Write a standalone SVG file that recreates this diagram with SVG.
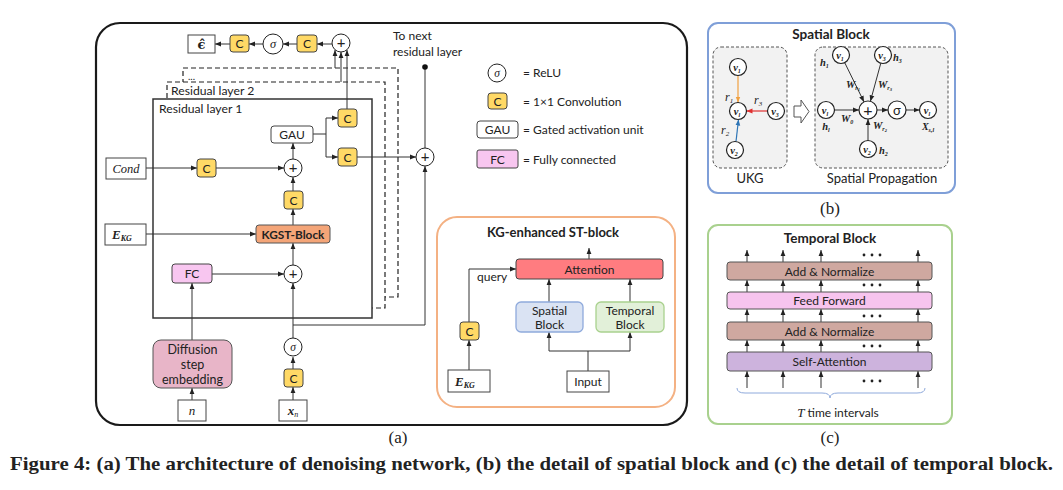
<svg xmlns="http://www.w3.org/2000/svg" width="1063" height="490" viewBox="0 0 1063 490">
<defs>
<marker id="ah" viewBox="0 0 10 10" refX="10" refY="5" markerWidth="6" markerHeight="6" orient="auto" markerUnits="userSpaceOnUse"><path d="M0,1 L10,5 L0,9 z" fill="#222"/></marker>
<marker id="aho" viewBox="0 0 10 10" refX="10" refY="5" markerWidth="6" markerHeight="6" orient="auto" markerUnits="userSpaceOnUse"><path d="M0,1 L10,5 L0,9 z" fill="#F0A040"/></marker>
<marker id="ahr" viewBox="0 0 10 10" refX="10" refY="5" markerWidth="6" markerHeight="6" orient="auto" markerUnits="userSpaceOnUse"><path d="M0,1 L10,5 L0,9 z" fill="#E03030"/></marker>
<marker id="ahb" viewBox="0 0 10 10" refX="10" refY="5" markerWidth="6" markerHeight="6" orient="auto" markerUnits="userSpaceOnUse"><path d="M0,1 L10,5 L0,9 z" fill="#2E75B6"/></marker>
<style>
svg{font-family:Lato,"Liberation Sans",sans-serif;font-size:12px}
text{fill:#222}
.c{text-anchor:middle}
.b{font-weight:bold}
.m{font-family:"Liberation Serif","DejaVu Serif",serif;font-style:italic}
.mb{font-family:"Liberation Serif","DejaVu Serif",serif;font-style:italic;font-weight:bold}
.conv{fill:#FFD966;stroke:#444;stroke-width:1}
.box{fill:#fff;stroke:#444;stroke-width:1}
.fc{fill:#F8C6F0;stroke:#444;stroke-width:1}
.op{fill:#fff;stroke:#222;stroke-width:1}
.ln{fill:none;stroke:#333;stroke-width:1}
.ar{fill:none;stroke:#333;stroke-width:1;marker-end:url(#ah)}
.dash{fill:#fff;stroke:#222;stroke-width:1.2;stroke-dasharray:5,3}
.node{fill:#fff;stroke:#222;stroke-width:1.2}
.an{fill:#CFA8A0;stroke:#555;stroke-width:1}
.cap{font-family:"Liberation Serif","DejaVu Serif",serif}
</style>
</defs>

<!-- backgrounds / frames -->
<g id="frames">
<rect x="96" y="23" width="591" height="402" rx="24" fill="#fff" stroke="#1a1a1a" stroke-width="2.2"/>
<rect class="dash" x="183" y="68" width="215" height="229"/>
<rect class="dash" x="167" y="82" width="218" height="226"/>
<rect x="153" y="99" width="219" height="219" fill="#fff" stroke="#333" stroke-width="1.5"/>
<text x="188" y="80" font-size="10">...</text>
<text x="171" y="95" font-size="12.2">Residual layer 2</text>
<text x="159" y="113" font-size="12.2">Residual layer 1</text>
<rect x="437" y="217" width="238" height="190" rx="20" fill="#fff" stroke="#F4B183" stroke-width="2"/>
<text class="c b" x="553" y="237" font-size="13">KG-enhanced ST-block</text>
<text x="477" y="281">query</text>
<rect x="708" y="23" width="247" height="170" rx="10" fill="#fff" stroke="#7F9FD8" stroke-width="2"/>
<text class="c b" x="831" y="39" font-size="13.5">Spatial Block</text>
<rect x="713" y="47" width="74" height="121" rx="8" fill="#F2F2F2" stroke="#555" stroke-width="1" stroke-dasharray="3,2"/>
<rect x="815" y="47" width="133" height="121" rx="8" fill="#F2F2F2" stroke="#555" stroke-width="1" stroke-dasharray="3,2"/>
<text class="c" x="750" y="183" font-size="13">UKG</text>
<text class="c" x="882" y="183" font-size="13">Spatial Propagation</text>
<polygon points="794,106 801,106 801,100 809,111.5 801,123 801,117 794,117" fill="#fff" stroke="#555" stroke-width="1"/>
<rect x="708" y="225" width="244" height="199" rx="10" fill="#fff" stroke="#A9D18E" stroke-width="2"/>
<text class="c b" x="830" y="243" font-size="13.5">Temporal Block</text>
</g>

<!-- connectors -->
<g id="connectors">
<line class="ar" x1="332" y1="44" x2="317" y2="44"/>
<line class="ar" x1="297" y1="44" x2="283" y2="44"/>
<line class="ar" x1="263" y1="44" x2="249" y2="44"/>
<line class="ar" x1="230" y1="44" x2="215" y2="44"/>
<line class="ar" x1="335" y1="68" x2="335" y2="50"/>
<line class="ar" x1="341" y1="82" x2="341" y2="52"/>
<line class="ar" x1="347" y1="109" x2="347" y2="50"/>
<path class="ln" d="M313,134 H326 M326,118 V157"/>
<line class="ar" x1="326" y1="118" x2="338" y2="118"/>
<line class="ar" x1="326" y1="157" x2="338" y2="157"/>
<line class="ar" x1="293" y1="159" x2="293" y2="143"/>
<line class="ar" x1="146" y1="168" x2="197" y2="168"/>
<line class="ar" x1="216" y1="168" x2="284" y2="168"/>
<line class="ar" x1="293" y1="191" x2="293" y2="177"/>
<line class="ar" x1="293" y1="225" x2="293" y2="209"/>
<line class="ar" x1="146" y1="234" x2="256" y2="234"/>
<line class="ar" x1="293" y1="265" x2="293" y2="243"/>
<line class="ar" x1="212" y1="274" x2="284" y2="274"/>
<line class="ar" x1="192" y1="340" x2="192" y2="283"/>
<line class="ar" x1="192" y1="400" x2="192" y2="388"/>
<line class="ar" x1="293" y1="400" x2="293" y2="387"/>
<line class="ar" x1="293" y1="369" x2="293" y2="357"/>
<line class="ar" x1="293" y1="338" x2="293" y2="283"/>
<path class="ar" d="M293,325 H425 V166"/>
<line class="ar" x1="357" y1="157" x2="416" y2="157"/>
<line class="ln" x1="425" y1="148" x2="425" y2="67"/>
<circle cx="425" cy="67" r="2.8" fill="#111"/>
<line class="ar" x1="589" y1="259" x2="589" y2="248"/>
<path class="ar" d="M469,322 V269 H516"/>
<line class="ar" x1="469" y1="370" x2="469" y2="340"/>
<line class="ar" x1="549" y1="302" x2="549" y2="279"/>
<line class="ar" x1="630" y1="302" x2="630" y2="279"/>
<path class="ln" d="M588,371 V351 M549,351 H630"/>
<line class="ar" x1="549" y1="351" x2="549" y2="332"/>
<line class="ar" x1="630" y1="351" x2="630" y2="332"/>
<line x1="738" y1="75.5" x2="738" y2="102.5" stroke="#F0A040" stroke-width="1.2" marker-end="url(#aho)"/>
<line x1="767.5" y1="111" x2="746.5" y2="111" stroke="#E03030" stroke-width="1.2" marker-end="url(#ahr)"/>
<line x1="736" y1="141.5" x2="738.5" y2="119.5" stroke="#2E75B6" stroke-width="1.2" marker-end="url(#ahb)"/>
<line class="ar" x1="844.7" y1="62.6" x2="864" y2="101.9"/>
<line class="ar" x1="880.8" y1="63.2" x2="870.4" y2="101.3"/>
<line class="ar" x1="834.5" y1="110" x2="859" y2="110"/>
<line class="ar" x1="868" y1="140.5" x2="868" y2="119"/>
<line class="ar" x1="877" y1="110" x2="888" y2="110"/>
<line class="ar" x1="906" y1="110" x2="919.5" y2="110"/>
<g class="ar">
<line x1="747" y1="262" x2="747" y2="250"/><line x1="783" y1="262" x2="783" y2="250"/><line x1="821" y1="262" x2="821" y2="250"/><line x1="918" y1="262" x2="918" y2="250"/>
<line x1="747" y1="292" x2="747" y2="280"/><line x1="783" y1="292" x2="783" y2="280"/><line x1="821" y1="292" x2="821" y2="280"/><line x1="918" y1="292" x2="918" y2="280"/>
<line x1="747" y1="322" x2="747" y2="309"/><line x1="783" y1="322" x2="783" y2="309"/><line x1="821" y1="322" x2="821" y2="309"/><line x1="918" y1="322" x2="918" y2="309"/>
<line x1="747" y1="352" x2="747" y2="340"/><line x1="783" y1="352" x2="783" y2="340"/><line x1="821" y1="352" x2="821" y2="340"/><line x1="918" y1="352" x2="918" y2="340"/>
<line x1="747" y1="388" x2="747" y2="371"/><line x1="783" y1="388" x2="783" y2="371"/><line x1="821" y1="388" x2="821" y2="371"/><line x1="918" y1="388" x2="918" y2="371"/>
</g>
</g>

<!-- nodes of (a) -->
<g id="eps-hat"><rect class="box" x="188" y="35" width="27" height="18"/><text class="c" x="201.5" y="49" font-size="13" font-family="DejaVu Serif" font-weight="bold">ϵ̂</text></g>
<g id="conv-out2"><rect class="conv" x="230" y="35" width="19" height="17" rx="3"/><text class="c" x="239.5" y="48">C</text></g>
<g id="relu-out"><circle class="op" cx="273" cy="44" r="10"/><text class="c m" x="273" y="48" font-size="12.5">σ</text></g>
<g id="conv-out1"><rect class="conv" x="297" y="35" width="20" height="17" rx="3"/><text class="c" x="307" y="48">C</text></g>
<g id="sum-skip"><circle class="op" cx="341" cy="43" r="9"/><text class="c" x="341" y="48" font-size="15">+</text></g>
<g id="to-next"><text x="393" y="40">To next</text><text x="393" y="56">residual layer</text></g>
<g id="conv-skip"><rect class="conv" x="338" y="109" width="19" height="18" rx="3"/><text class="c" x="347.5" y="122.5">C</text></g>
<g id="gau"><rect class="box" x="271" y="126" width="42" height="17" rx="3"/><text class="c" x="292" y="139">GAU</text></g>
<g id="conv-res"><rect class="conv" x="338" y="148" width="19" height="18" rx="3"/><text class="c" x="347.5" y="161.5">C</text></g>
<g id="sum-res"><circle class="op" cx="425" cy="157" r="9"/><text class="c" x="425" y="162" font-size="15">+</text></g>
<g id="cond"><rect class="box" x="106" y="158" width="40" height="21"/><text class="c m" x="126" y="173" font-size="12.5">Cond</text></g>
<g id="conv-cond"><rect class="conv" x="197" y="159" width="19" height="18" rx="3"/><text class="c" x="206.5" y="172.5">C</text></g>
<g id="sum-cond"><circle class="op" cx="293" cy="168" r="9"/><text class="c" x="293" y="173" font-size="15">+</text></g>
<g id="conv-kgst"><rect class="conv" x="284" y="191" width="19" height="18" rx="3"/><text class="c" x="293.5" y="204.5">C</text></g>
<g id="ekg-a"><rect class="box" x="105" y="224" width="41" height="21"/><text class="mb" x="112" y="239" font-size="13">E<tspan font-size="8" dy="2">KG</tspan></text></g>
<g id="kgst"><rect x="256" y="225" width="74" height="18" rx="3" fill="#F4A578" stroke="#555" stroke-width="1"/><text class="c b" x="293" y="238.5" font-size="11.8">KGST-Block</text></g>
<g id="fc"><rect class="fc" x="172" y="264" width="40" height="19" rx="3"/><text class="c" x="192" y="278">FC</text></g>
<g id="sum-step"><circle class="op" cx="293" cy="274" r="9"/><text class="c" x="293" y="279" font-size="15">+</text></g>
<g id="relu-in"><circle class="op" cx="293" cy="347" r="9"/><text class="c m" x="293" y="351" font-size="11.5">σ</text></g>
<g id="diffusion"><rect x="153" y="340" width="79" height="48" rx="8" fill="#E8B5C8" stroke="#555" stroke-width="1"/><text class="c" x="192.5" y="354" font-size="12.5">Diffusion</text><text class="c" x="192.5" y="369" font-size="12.5">step</text><text class="c" x="192.5" y="384" font-size="12.5">embedding</text></g>
<g id="conv-in"><rect class="conv" x="284" y="369" width="19" height="18" rx="3"/><text class="c" x="293.5" y="382.5">C</text></g>
<g id="n"><rect class="box" x="178" y="400" width="28" height="21"/><text class="c m" x="192" y="415" font-size="13">n</text></g>
<g id="xn"><rect class="box" x="279" y="400" width="28" height="21"/><text class="c mb" x="293" y="415" font-size="13">x<tspan font-size="8" dy="2" font-weight="normal">n</tspan></text></g>

<!-- legend -->
<g id="legend">
<circle class="op" cx="497" cy="73" r="9"/><text class="c m" x="497" y="77" font-size="11.5">σ</text><text x="523" y="77">= ReLU</text>
<rect class="conv" x="488" y="93" width="19" height="16" rx="3"/><text class="c" x="497.5" y="105.5">C</text><text x="523" y="105.5">= 1×1 Convolution</text>
<rect class="box" x="477" y="121" width="41" height="17" rx="3"/><text class="c" x="497.5" y="134">GAU</text><text x="523" y="134">= Gated activation unit</text>
<rect class="fc" x="477" y="150" width="41" height="18" rx="2"/><text class="c" x="497.5" y="163.5">FC</text><text x="523" y="163.5">= Fully connected</text>
</g>

<!-- KG-enhanced ST-block nodes -->
<g id="attention"><rect x="516" y="259" width="147" height="20" rx="3" fill="#FF7C80" stroke="#444" stroke-width="1"/><text class="c" x="589.5" y="273.5">Attention</text></g>
<g id="conv-query"><rect class="conv" x="460" y="322" width="19" height="18" rx="3"/><text class="c" x="469.5" y="335.5">C</text></g>
<g id="ekg-b"><rect class="box" x="448" y="370" width="42" height="22"/><text class="mb" x="455" y="385.5" font-size="13">E<tspan font-size="8" dy="2">KG</tspan></text></g>
<g id="spatial-block"><rect x="516" y="302" width="67" height="30" rx="5" fill="#DAE3F3" stroke="#8FAADC" stroke-width="1.3"/><text class="c" x="549.5" y="314.5">Spatial</text><text class="c" x="549.5" y="329">Block</text></g>
<g id="temporal-block"><rect x="596" y="302" width="68" height="30" rx="5" fill="#E2F0D9" stroke="#A9D18E" stroke-width="1.3"/><text class="c" x="630" y="314.5">Temporal</text><text class="c" x="630" y="329">Block</text></g>
<g id="input"><rect class="box" x="567" y="371" width="42" height="21"/><text class="c" x="588" y="385.5">Input</text></g>

<text class="c cap" x="398" y="443" font-size="17">(a)</text>

<!-- (b) nodes -->
<g id="ukg-labels">
<text class="m" x="725" y="101" font-size="12">r<tspan font-size="7" dy="2">1</tspan></text>
<text class="m" x="754" y="104" font-size="12">r<tspan font-size="7" dy="2">3</tspan></text>
<text class="m" x="721" y="134" font-size="12">r<tspan font-size="7" dy="2">2</tspan></text>
</g>
<g id="ukg-v1"><circle class="node" cx="738" cy="67" r="8.5"/><text class="c mb" x="737" y="70.5" font-size="10.5">v<tspan font-size="6" dy="2">1</tspan></text></g>
<g id="ukg-vl"><circle class="node" cx="738" cy="111" r="8.5"/><text class="c mb" x="737" y="114.5" font-size="10.5">v<tspan font-size="6" dy="2">l</tspan></text></g>
<g id="ukg-v3"><circle class="node" cx="776" cy="111" r="8.5"/><text class="c mb" x="775" y="114.5" font-size="10.5">v<tspan font-size="6" dy="2">3</tspan></text></g>
<g id="ukg-v2"><circle class="node" cx="735" cy="150" r="8.5"/><text class="c mb" x="734" y="153.5" font-size="10.5">v<tspan font-size="6" dy="2">2</tspan></text></g>
<g id="sp-v1"><circle class="node" cx="841" cy="55" r="8.5"/><text class="c mb" x="840" y="58.5" font-size="10.5">v<tspan font-size="6" dy="2">1</tspan></text><text class="mb" x="820" y="66" font-size="10.5">h<tspan font-size="6" dy="2">1</tspan></text></g>
<g id="sp-v3"><circle class="node" cx="883" cy="55" r="8.5"/><text class="c mb" x="882" y="58.5" font-size="10.5">v<tspan font-size="6" dy="2">3</tspan></text><text class="mb" x="893" y="61" font-size="10.5">h<tspan font-size="6" dy="2">3</tspan></text></g>
<g id="sp-vl"><circle class="node" cx="826" cy="110" r="8.5"/><text class="c mb" x="825" y="113.5" font-size="10.5">v<tspan font-size="6" dy="2">l</tspan></text><text class="c mb" x="826" y="130" font-size="10.5">h<tspan font-size="6" dy="2">l</tspan></text></g>
<g id="sp-sum"><circle class="node" cx="868" cy="110" r="9"/><text class="c" x="868" y="115.5" font-size="16">+</text></g>
<g id="sp-sigma"><circle class="node" cx="897" cy="110" r="9"/><text class="c" x="897" y="114.5" font-size="13">σ</text></g>
<g id="sp-out"><circle class="node" cx="928" cy="110" r="8.5"/><text class="c mb" x="927" y="113.5" font-size="10.5">v<tspan font-size="6" dy="2">l</tspan></text><text class="c mb" x="928" y="130" font-size="10">X<tspan font-size="6" dy="2">s,l</tspan></text></g>
<g id="sp-v2"><circle class="node" cx="868" cy="149" r="8.5"/><text class="c mb" x="867" y="152.5" font-size="10.5">v<tspan font-size="6" dy="2">2</tspan></text><text class="mb" x="879" y="154" font-size="10.5">h<tspan font-size="6" dy="2">2</tspan></text></g>
<g id="weights">
<text class="mb" x="846" y="88" font-size="10.5">W<tspan font-size="6" dy="2">r</tspan><tspan font-size="4.5" dy="1">1</tspan></text>
<text class="mb" x="878" y="88" font-size="10.5">W<tspan font-size="6" dy="2">r</tspan><tspan font-size="4.5" dy="1">3</tspan></text>
<text class="mb" x="841" y="122" font-size="10.5">W<tspan font-size="6" dy="2">0</tspan></text>
<text class="mb" x="873" y="129" font-size="10.5">W<tspan font-size="6" dy="2">r</tspan><tspan font-size="4.5" dy="1">2</tspan></text>
</g>
<text class="c cap" x="830" y="214" font-size="17">(b)</text>

<!-- (c) nodes -->
<g id="add-norm-top"><rect class="an" x="727" y="262" width="205" height="18" rx="3"/><text class="c" x="829.5" y="275.5">Add &amp; Normalize</text></g>
<g id="feed-forward"><rect x="727" y="292" width="205" height="17" rx="3" fill="#F7C4EE" stroke="#555" stroke-width="1"/><text class="c" x="829.5" y="305">Feed Forward</text></g>
<g id="add-norm-bottom"><rect class="an" x="727" y="322" width="205" height="18" rx="3"/><text class="c" x="829.5" y="335.5">Add &amp; Normalize</text></g>
<g id="self-attention"><rect x="727" y="352" width="205" height="19" rx="3" fill="#CDB3DD" stroke="#555" stroke-width="1"/><text class="c" x="829.5" y="366">Self-Attention</text></g>
<g id="dots" fill="#222">
<circle cx="864" cy="255" r="1.4"/><circle cx="872" cy="255" r="1.4"/><circle cx="880" cy="255" r="1.4"/>
<circle cx="864" cy="285" r="1.4"/><circle cx="872" cy="285" r="1.4"/><circle cx="880" cy="285" r="1.4"/>
<circle cx="864" cy="316" r="1.4"/><circle cx="872" cy="316" r="1.4"/><circle cx="880" cy="316" r="1.4"/>
<circle cx="864" cy="346" r="1.4"/><circle cx="872" cy="346" r="1.4"/><circle cx="880" cy="346" r="1.4"/>
<circle cx="864" cy="381" r="1.4"/><circle cx="872" cy="381" r="1.4"/><circle cx="880" cy="381" r="1.4"/>
</g>
<path d="M737,388 Q737,393 745,393 H822 Q830,393 830,398 Q830,393 838,393 H917 Q925,393 925,388" fill="none" stroke="#8FAADC" stroke-width="1"/>
<text class="c" x="838" y="417"><tspan class="m" font-size="13">T</tspan> time intervals</text>
<text class="c cap" x="830" y="443" font-size="17">(c)</text>

<text class="cap b" x="10" y="470" font-size="19" textLength="1043" lengthAdjust="spacingAndGlyphs">Figure 4: (a) The architecture of denoising network, (b) the detail of spatial block and (c) the detail of temporal block.</text>
</svg>
